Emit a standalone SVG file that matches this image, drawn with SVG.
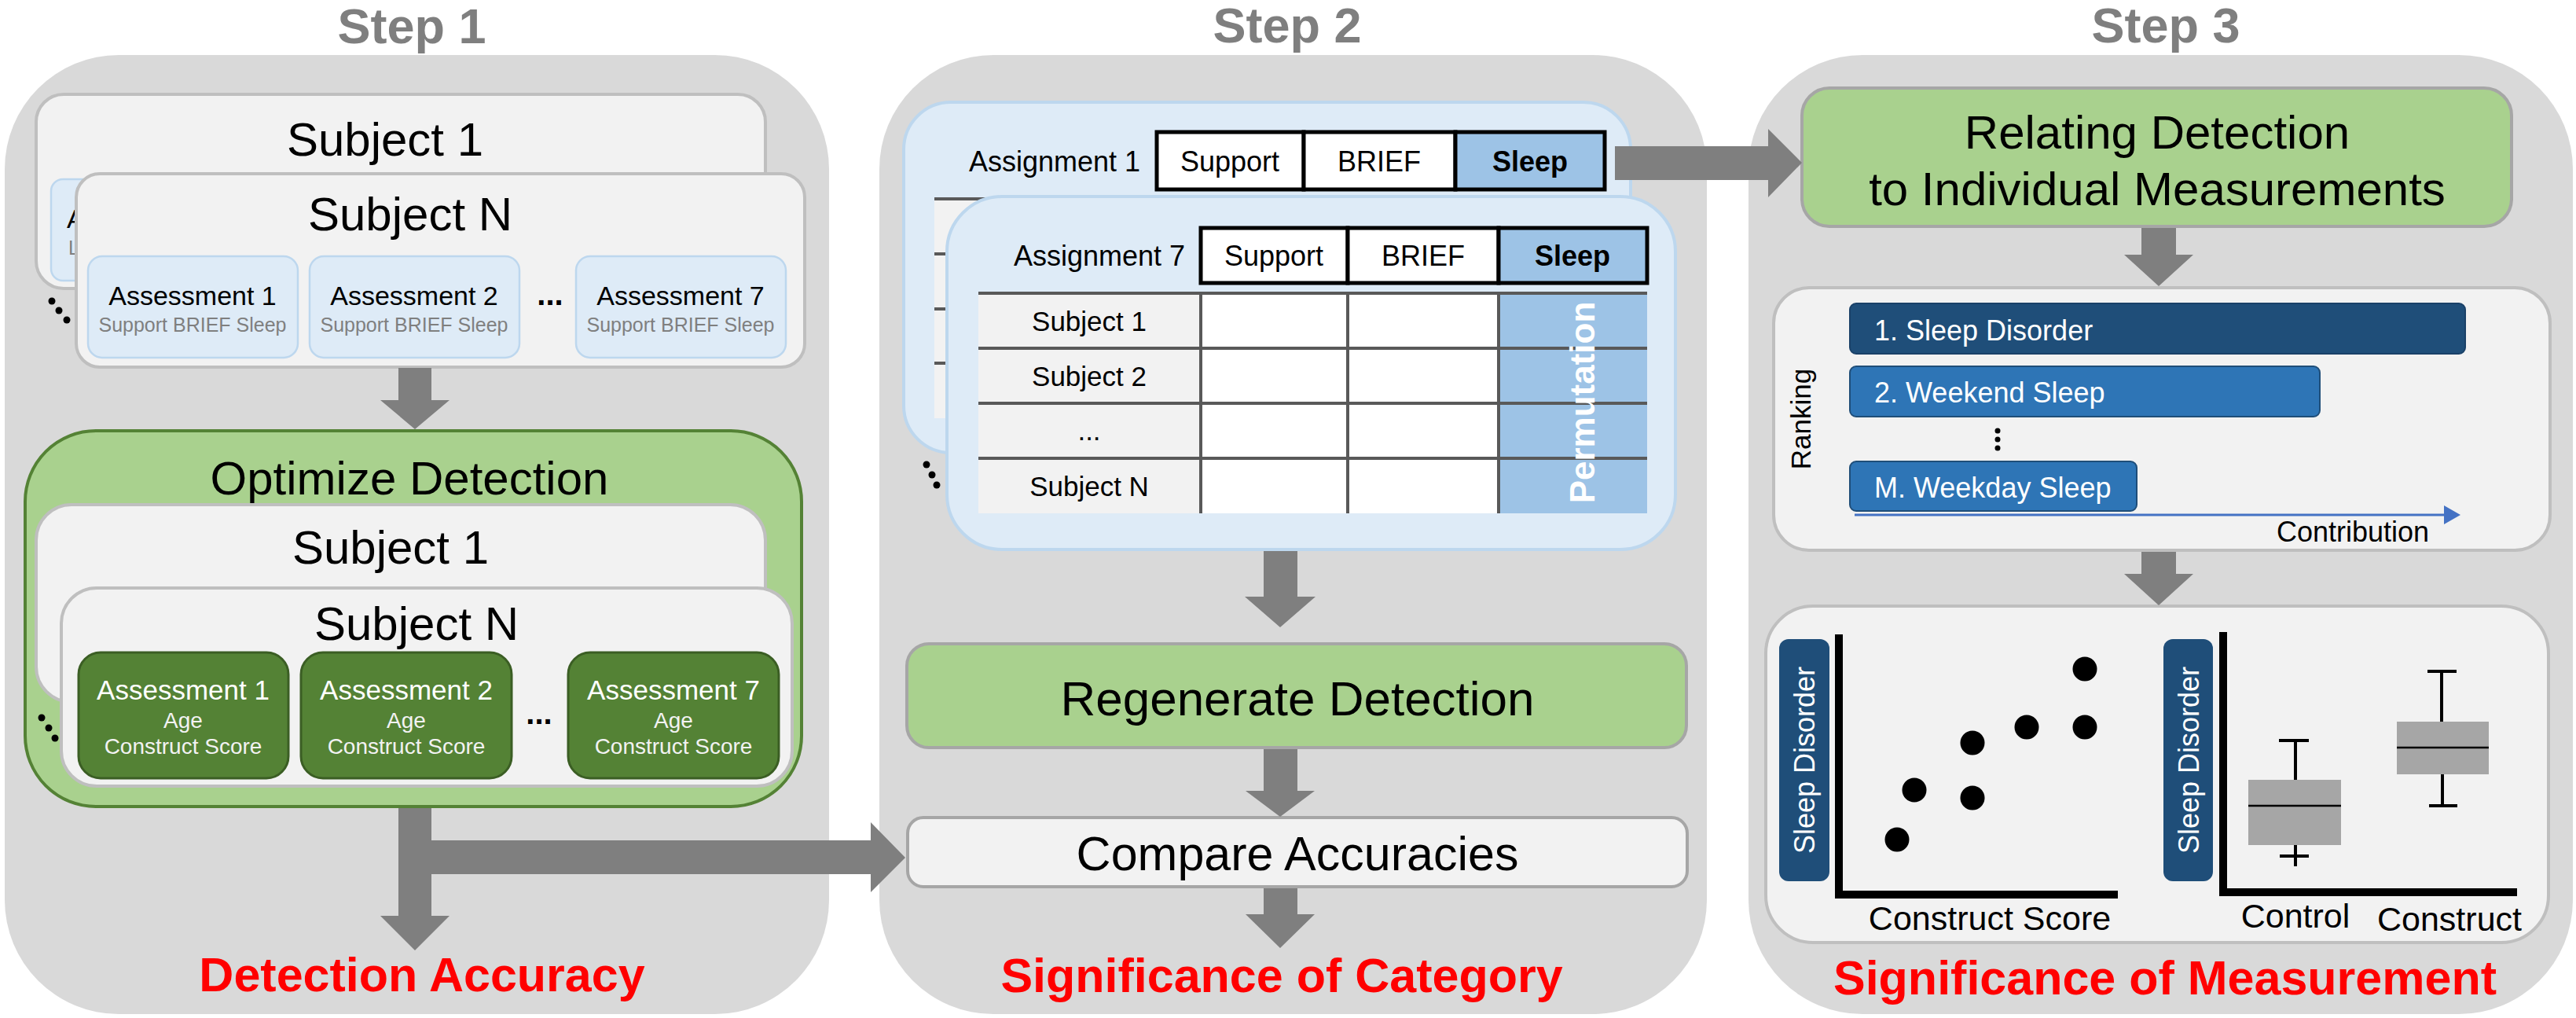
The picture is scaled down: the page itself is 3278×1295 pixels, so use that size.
<svg xmlns="http://www.w3.org/2000/svg" width="3278" height="1295" viewBox="0 0 3278 1295">
<style>
text{font-family:"Liberation Sans",Arial,sans-serif}
.panel{fill:#d9d9d9}
.step{font-weight:bold;font-size:63px;fill:#7f7f7f;text-anchor:middle}
.subj{fill:#f2f2f2;stroke:#bfbfbf;stroke-width:4}
.big{font-size:60px;fill:#000;text-anchor:middle}
.lt{fill:#deebf7;stroke:#bdd7ee;stroke-width:2.5}
.asg{fill:#deebf7;stroke:#bdd7ee;stroke-width:4}
.gt{fill:#548235;stroke:#3b5e24;stroke-width:3}
.an{font-size:34px;fill:#000;text-anchor:middle}
.anw{font-size:35px;fill:#fff;text-anchor:middle}
.sub{font-size:25px;fill:#7f7f7f;text-anchor:middle}
.subw{font-size:28px;fill:#f2f2f2;text-anchor:middle}
.ell{font-size:40px;font-weight:bold;fill:#000;text-anchor:middle}
.red{font-weight:bold;font-size:61px;fill:#ff0000;text-anchor:middle}
.arrow{fill:#7f7f7f}
.hdr{fill:#fff;stroke:#000;stroke-width:5}
.ht{font-size:36px;fill:#000;text-anchor:middle}
.grid{stroke:#595959;stroke-width:4}
.rt{font-size:35px;fill:#000;text-anchor:middle}
.green{fill:#a9d18e;stroke:#a6a6a6;stroke-width:4}
.bar{font-size:36px;fill:#fff}
.dot{fill:#000}
.ax{fill:none;stroke:#000;stroke-width:10}
.wh{stroke:#000;stroke-width:4}
.lab{font-size:43px;fill:#000;text-anchor:middle}
.vlab{font-size:36px;fill:#fff;text-anchor:middle}
</style>

<!-- Panels -->
<g id="panel1"><rect class="panel" x="6" y="70" width="1049" height="1220" rx="145" ry="145"/></g>
<g id="panel2"><rect class="panel" x="1119" y="70" width="1053" height="1220" rx="145" ry="145"/></g>
<g id="panel3"><rect class="panel" x="2225" y="70" width="1049" height="1220" rx="145" ry="145"/></g>

<g id="titles">
<text class="step" x="524" y="55">Step 1</text>
<text class="step" x="1638" y="54">Step 2</text>
<text class="step" x="2756" y="54">Step 3</text>
</g>

<!-- Step 1 top -->
<g id="s1-subject1">
<rect class="subj" x="46" y="120" width="928" height="247" rx="35"/>
<text class="big" x="490" y="198">Subject 1</text>
<rect class="lt" x="65" y="228" width="267" height="129" rx="15"/>
<text x="85" y="290" style="font-size:34px;fill:#000">A</text>
<text x="87" y="324" style="font-size:25px;fill:#7f7f7f">L</text>
</g>
<g id="s1-dots1">
<circle class="dot" cx="66" cy="383" r="4.5"/><circle class="dot" cx="75" cy="395" r="4.5"/><circle class="dot" cx="85" cy="407" r="4.5"/>
</g>
<g id="s1-subjectN">
<rect class="subj" x="97" y="221" width="927" height="246" rx="30"/>
<text class="big" x="522" y="293">Subject N</text>
</g>
<g id="s1-assess1">
<rect class="lt" x="112" y="326" width="267" height="129" rx="18"/>
<text class="an" x="245" y="388">Assessment 1</text>
<text class="sub" x="245" y="422">Support BRIEF Sleep</text>
</g>
<g id="s1-assess2">
<rect class="lt" x="394" y="326" width="267" height="129" rx="18"/>
<text class="an" x="527" y="388">Assessment 2</text>
<text class="sub" x="527" y="422">Support BRIEF Sleep</text>
</g>
<text class="ell" x="700" y="388">...</text>
<g id="s1-assess7">
<rect class="lt" x="733" y="326" width="267" height="129" rx="18"/>
<text class="an" x="866" y="388">Assessment 7</text>
<text class="sub" x="866" y="422">Support BRIEF Sleep</text>
</g>

<!-- Optimize Detection -->
<g id="optimize">
<rect x="32" y="548" width="988" height="478" rx="90" fill="#a9d18e" stroke="#548235" stroke-width="4"/>
<text class="big" x="521" y="629">Optimize Detection</text>
<rect class="subj" x="46" y="642" width="928" height="251" rx="45"/>
<text class="big" x="497" y="717">Subject 1</text>
<circle class="dot" cx="53" cy="913" r="4.5"/><circle class="dot" cx="62" cy="926" r="4.5"/><circle class="dot" cx="70" cy="939" r="4.5"/>
<rect class="subj" x="78" y="748" width="930" height="252" rx="45"/>
<text class="big" x="530" y="814">Subject N</text>
</g>
<g id="opt-assess1">
<rect class="gt" x="100" y="830" width="267" height="160" rx="28"/>
<text class="anw" x="233" y="890">Assessment 1</text>
<text class="subw" x="233" y="926">Age</text>
<text class="subw" x="233" y="959">Construct Score</text>
</g>
<g id="opt-assess2">
<rect class="gt" x="383" y="830" width="268" height="160" rx="28"/>
<text class="anw" x="517" y="890">Assessment 2</text>
<text class="subw" x="517" y="926">Age</text>
<text class="subw" x="517" y="959">Construct Score</text>
</g>
<text class="ell" x="686" y="921">...</text>
<g id="opt-assess7">
<rect class="gt" x="723" y="830" width="268" height="160" rx="28"/>
<text class="anw" x="857" y="890">Assessment 7</text>
<text class="subw" x="857" y="926">Age</text>
<text class="subw" x="857" y="959">Construct Score</text>
</g>
<g id="detection-accuracy"><text class="red" x="537" y="1261">Detection Accuracy</text></g>

<!-- Step 2 -->
<g id="assignment1">
<rect class="asg" x="1150" y="130" width="925" height="446" rx="60"/>
<text x="1233" y="218" style="font-size:36px;fill:#000">Assignment 1</text>
<rect class="hdr" x="1472" y="168" width="187" height="73"/>
<rect class="hdr" x="1659" y="168" width="193" height="73"/>
<rect class="hdr" x="1852" y="168" width="190" height="73" style="fill:#9dc3e6"/>
<text class="ht" x="1565" y="218">Support</text>
<text class="ht" x="1755" y="218">BRIEF</text>
<text class="ht" x="1947" y="218" style="font-weight:bold">Sleep</text>
<rect x="1189" y="253" width="283" height="279" fill="#f2f2f2"/>
<rect x="1472" y="253" width="380" height="279" fill="#fff"/>
<rect x="1852" y="253" width="190" height="279" fill="#9dc3e6"/>
<line class="grid" x1="1189" y1="253" x2="2042" y2="253"/>
<line class="grid" x1="1189" y1="323" x2="2042" y2="323"/>
<line class="grid" x1="1189" y1="393" x2="2042" y2="393"/>
<line class="grid" x1="1189" y1="462" x2="2042" y2="462"/>
</g>
<g id="s2-dots">
<circle class="dot" cx="1179" cy="591" r="4.5"/><circle class="dot" cx="1186" cy="604" r="4.5"/><circle class="dot" cx="1192" cy="617" r="4.5"/>
</g>
<g id="assignment7">
<rect class="asg" x="1205" y="250" width="927" height="449" rx="70"/>
<text x="1290" y="338" style="font-size:36px;fill:#000">Assignment 7</text>
<rect class="hdr" x="1528" y="290" width="187" height="70"/>
<rect class="hdr" x="1715" y="290" width="192" height="70"/>
<rect class="hdr" x="1907" y="290" width="189" height="70" style="fill:#9dc3e6"/>
<text class="ht" x="1621" y="338">Support</text>
<text class="ht" x="1811" y="338">BRIEF</text>
<text class="ht" x="2001" y="338" style="font-weight:bold">Sleep</text>
<rect x="1245" y="373" width="283" height="280" fill="#f2f2f2"/>
<rect x="1528" y="373" width="379" height="280" fill="#fff"/>
<rect x="1907" y="373" width="189" height="280" fill="#9dc3e6"/>
<line class="grid" x1="1245" y1="373" x2="2096" y2="373"/>
<line class="grid" x1="1245" y1="443" x2="2096" y2="443"/>
<line class="grid" x1="1245" y1="513" x2="2096" y2="513"/>
<line class="grid" x1="1245" y1="583" x2="2096" y2="583"/>
<line class="grid" x1="1528" y1="373" x2="1528" y2="653"/>
<line class="grid" x1="1715" y1="373" x2="1715" y2="653"/>
<line class="grid" x1="1907" y1="373" x2="1907" y2="653"/>
<text class="rt" x="1386" y="421">Subject 1</text>
<text class="rt" x="1386" y="491">Subject 2</text>
<text class="rt" x="1386" y="560">...</text>
<text class="rt" x="1386" y="631">Subject N</text>
<text transform="translate(2029,512) rotate(-90)" style="font-size:44px;font-weight:bold;fill:#fff;text-anchor:middle">Permutation</text>
</g>
<g id="regenerate">
<rect class="green" x="1154" y="819" width="992" height="132" rx="28"/>
<text x="1651" y="910" style="font-size:62px;fill:#000;text-anchor:middle">Regenerate Detection</text>
</g>
<g id="compare">
<rect x="1155" y="1040" width="992" height="88" rx="20" fill="#f2f2f2" stroke="#a6a6a6" stroke-width="4"/>
<text x="1651" y="1107" style="font-size:61px;fill:#000;text-anchor:middle">Compare Accuracies</text>
</g>
<g id="significance-category"><text class="red" x="1631" y="1262">Significance of Category</text></g>

<!-- Step 3 -->
<g id="relating">
<rect class="green" x="2293" y="112" width="903" height="176" rx="35"/>
<text class="big" x="2745" y="189">Relating Detection</text>
<text class="big" x="2745" y="261">to Individual Measurements</text>
</g>
<g id="ranking">
<rect class="subj" x="2257" y="366" width="988" height="334" rx="45"/>
<rect x="2354" y="386" width="783" height="64" rx="8" fill="#1f4e79" stroke="#1a4168" stroke-width="2"/>
<text class="bar" x="2385" y="433">1. Sleep Disorder</text>
<rect x="2354" y="466" width="598" height="64" rx="8" fill="#2e75b6" stroke="#1f4e79" stroke-width="2"/>
<text class="bar" x="2385" y="512">2. Weekend Sleep</text>
<circle class="dot" cx="2542" cy="548" r="3.5"/><circle class="dot" cx="2542" cy="559" r="3.5"/><circle class="dot" cx="2542" cy="570" r="3.5"/>
<rect x="2354" y="587" width="365" height="63" rx="8" fill="#2e75b6" stroke="#1f4e79" stroke-width="2"/>
<text class="bar" x="2385" y="633">M. Weekday Sleep</text>
<line x1="2360" y1="655" x2="3114" y2="655" stroke="#4472c4" stroke-width="3"/>
<polygon points="3110,643 3131,655 3110,667" fill="#4472c4"/>
<text x="2897" y="689" style="font-size:36px;fill:#000">Contribution</text>
<text transform="translate(2304,533) rotate(-90)" style="font-size:35px;fill:#000;text-anchor:middle">Ranking</text>
</g>
<g id="plots">
<rect class="subj" x="2247" y="771" width="996" height="428" rx="60"/>
<rect x="2264" y="813" width="64" height="308" rx="12" fill="#1f4e79"/>
<text class="vlab" transform="translate(2309,967) rotate(-90)">Sleep Disorder</text>
<path class="ax" d="M2340,807 V1138 H2695"/>
<circle class="dot" cx="2414" cy="1068" r="15.5"/>
<circle class="dot" cx="2436" cy="1005" r="15.5"/>
<circle class="dot" cx="2510" cy="1015" r="15.5"/>
<circle class="dot" cx="2510" cy="945" r="15.5"/>
<circle class="dot" cx="2579" cy="925" r="15.5"/>
<circle class="dot" cx="2653" cy="925" r="15.5"/>
<circle class="dot" cx="2653" cy="851" r="15.5"/>
<text class="lab" x="2532" y="1183">Construct Score</text>
<rect x="2753" y="813" width="63" height="308" rx="12" fill="#1f4e79"/>
<text class="vlab" transform="translate(2798,967) rotate(-90)">Sleep Disorder</text>
<path class="ax" d="M2829,804 V1135 H3203"/>
<line class="wh" x1="2921" y1="942" x2="2921" y2="992"/>
<line class="wh" x1="2900" y1="942" x2="2938" y2="942"/>
<line class="wh" x1="2921" y1="1075" x2="2921" y2="1102"/>
<line class="wh" x1="2901" y1="1089" x2="2938" y2="1089"/>
<rect x="2861" y="992" width="118" height="83" fill="#a6a6a6"/>
<line x1="2861" y1="1025" x2="2979" y2="1025" stroke="#000" stroke-width="2.5"/>
<line class="wh" x1="3107" y1="854" x2="3107" y2="918"/>
<line class="wh" x1="3089" y1="854" x2="3126" y2="854"/>
<line class="wh" x1="3108" y1="985" x2="3108" y2="1025"/>
<line class="wh" x1="3091" y1="1025" x2="3127" y2="1025"/>
<rect x="3050" y="918" width="117" height="67" fill="#a6a6a6"/>
<line x1="3050" y1="951" x2="3167" y2="951" stroke="#000" stroke-width="2.5"/>
<text class="lab" x="2921" y="1180">Control</text>
<text class="lab" x="3117" y="1184">Construct</text>
</g>
<g id="significance-measurement"><text class="red" x="2755" y="1265">Significance of Measurement</text></g>

<!-- Connectors -->
<g id="connectors">
<polygon class="arrow" points="507,468 549,468 549,509 572,509 528,546 484,509 507,509"/>
<polygon class="arrow" points="507,1028 549,1028 549,1165 572,1165 528,1209 484,1165 507,1165"/>
<polygon class="arrow" points="549,1069 1108,1069 1108,1046 1152,1091 1108,1135 1108,1112 549,1112"/>
<polygon class="arrow" points="2055,186 2250,186 2250,164 2293,207 2250,251 2250,229 2055,229"/>
<polygon class="arrow" points="1608,701 1651,701 1651,759 1674,759 1629,798 1584,759 1608,759"/>
<polygon class="arrow" points="1608,953 1651,953 1651,1006 1673,1006 1629,1039 1585,1006 1608,1006"/>
<polygon class="arrow" points="1608,1130 1651,1130 1651,1163 1673,1163 1629,1206 1585,1163 1608,1163"/>
<polygon class="arrow" points="2725,290 2769,290 2769,324 2791,324 2747,364 2703,324 2725,324"/>
<polygon class="arrow" points="2725,702 2769,702 2769,730 2791,730 2747,770 2703,730 2725,730"/>
</g>
</svg>
